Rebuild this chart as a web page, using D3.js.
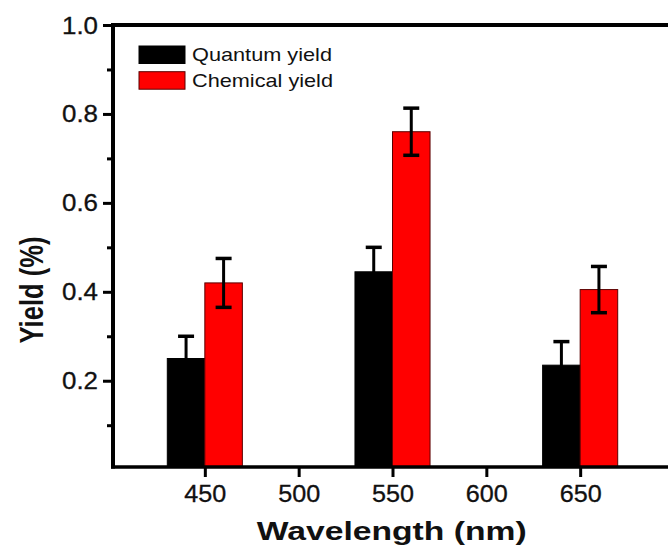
<!DOCTYPE html>
<html>
<head>
<meta charset="utf-8">
<script src="https://cdn.jsdelivr.net/npm/d3@7"></script>
<style>
  body { margin: 0; background: #fff; }
  text { font-family: Arial, "Liberation Sans", sans-serif; fill: #111; }
</style>
</head>
<body>
<div id="chart"></div>
<script>
// Yield vs wavelength - grouped bars with error bars
const wavelengths = [450, 550, 650];
const quantum_yield = [0.25, 0.445, 0.235];
const quantum_err = [0.05, 0.055, 0.053];
const chemical_yield = [0.42, 0.76, 0.405];
const chemical_err = [0.055, 0.053, 0.052];
const series_names = ["Quantum yield", "Chemical yield"];
const series_colors = ["#000000", "#ff0000"];
const x_ticks = [450, 500, 550, 600, 650];
const y_major = [0.2, 0.4, 0.6, 0.8, 1.0];
const y_minor = [0.1, 0.3, 0.5, 0.7, 0.9];

const width = 668;
const height = 554;
const axis_x = 113;
const axis_y = 467;
const bar_nm = 20;

const x_scale = d3.scaleLinear().domain([400, 700]).range([111, 674]);
const y_scale = d3.scaleLinear().domain([0.006, 1]).range([axis_y, 25]);

const svg = d3.select("#chart").append("svg")
    .attr("width", width)
    .attr("height", height);

const bars = [];
wavelengths.forEach((w, i) => {
    bars.push({ s: 0, x0: w - bar_nm, x1: w, v: quantum_yield[i], e: quantum_err[i] });
    bars.push({ s: 1, x0: w, x1: w + bar_nm, v: chemical_yield[i], e: chemical_err[i] });
});

svg.append("g").selectAll("rect")
    .data(bars)
    .join("rect")
    .attr("x", d => x_scale(d.x0))
    .attr("y", d => y_scale(d.v))
    .attr("width", d => x_scale(d.x1) - x_scale(d.x0))
    .attr("height", d => axis_y - y_scale(d.v))
    .attr("fill", d => series_colors[d.s])
    .attr("stroke", d => d.s ? "#5a0000" : "#000")
    .attr("stroke-width", 1);

// error bars
const err = svg.append("g")
    .attr("stroke", "#000")
    .attr("stroke-width", 3);

bars.forEach(d => {
    const cx = x_scale((d.x0 + d.x1) / 2);
    const top = y_scale(d.v + d.e);
    const bot = y_scale(d.v - d.e);
    err.append("line").attr("x1", cx).attr("x2", cx).attr("y1", top).attr("y2", bot);
    [top, bot].forEach(yy => {
        err.append("line")
            .attr("x1", cx - 8).attr("x2", cx + 8)
            .attr("y1", yy).attr("y2", yy)
            .attr("stroke-width", 3.5);
    });
});

// top frame line
svg.append("line")
    .attr("x1", axis_x - 2).attr("x2", width + 5)
    .attr("y1", y_scale(1)).attr("y2", y_scale(1))
    .attr("stroke", "#000")
    .attr("stroke-width", 4);

// x axis
const x_axis_g = svg.append("g")
    .attr("transform", `translate(0,${axis_y})`)
    .call(d3.axisBottom(x_scale).tickValues(x_ticks).tickSize(10).tickSizeOuter(0));
x_axis_g.select(".domain").attr("stroke-width", 3.5).attr("d", `M${axis_x - 2},0H${width + 5}`);
x_axis_g.selectAll(".tick line").attr("stroke-width", 3);
x_axis_g.selectAll(".tick text")
    .attr("y", 34.5)
    .attr("dy", 0)
    .attr("textLength", 42)
    .attr("lengthAdjust", "spacingAndGlyphs")
    .style("font-size", "23px")
    .style("font-family", "Arial, 'Liberation Sans', sans-serif")
    .style("stroke", "#111")
    .style("stroke-width", 0.3);

// y axis minor ticks
const y_minor_g = svg.append("g")
    .attr("transform", `translate(${axis_x},0)`)
    .call(d3.axisLeft(y_scale).tickValues(y_minor).tickSize(6).tickFormat(""));
y_minor_g.select(".domain").remove();
y_minor_g.selectAll(".tick line").attr("stroke-width", 3);

// y axis major
const y_axis_g = svg.append("g")
    .attr("transform", `translate(${axis_x},0)`)
    .call(d3.axisLeft(y_scale).tickValues(y_major).tickSize(10).tickSizeOuter(0).tickFormat(d3.format(".1f")));
y_axis_g.select(".domain").attr("stroke-width", 4).attr("d", `M0,${axis_y + 1.5}V${y_scale(1) - 2}`);
y_axis_g.selectAll(".tick line").attr("stroke-width", 3);
y_axis_g.selectAll(".tick text")
    .attr("x", -15)
    .attr("dy", "0.35em")
    .attr("textLength", 36)
    .attr("lengthAdjust", "spacingAndGlyphs")
    .style("font-size", "23px")
    .style("font-family", "Arial, 'Liberation Sans', sans-serif")
    .style("stroke", "#111")
    .style("stroke-width", 0.3);

// axis titles
svg.append("text")
    .attr("x", 391.7)
    .attr("y", 540)
    .attr("text-anchor", "middle")
    .attr("textLength", 270)
    .attr("lengthAdjust", "spacingAndGlyphs")
    .style("font-size", "26px")
    .style("font-weight", "bold")
    .text("Wavelength (nm)");

svg.append("text")
    .attr("transform", "translate(43,290) rotate(-90)")
    .attr("text-anchor", "middle")
    .attr("textLength", 107)
    .attr("lengthAdjust", "spacingAndGlyphs")
    .style("font-size", "33px")
    .style("font-weight", "bold")
    .text("Yield (%)");

// legend
const legend = svg.append("g").attr("transform", "translate(139,46)");
series_names.forEach((name, i) => {
    legend.append("rect")
        .attr("x", 0).attr("y", i * 25.7)
        .attr("width", 46).attr("height", 17.5)
        .attr("fill", series_colors[i])
        .attr("stroke", i ? "#5a0000" : "#000")
        .attr("stroke-width", 1);
    legend.append("text")
        .attr("x", 53).attr("y", i * 25.7 + 15.2)
        .attr("textLength", i ? 141 : 140)
        .attr("lengthAdjust", "spacingAndGlyphs")
        .style("font-size", "19px")
        .text(name);
});
</script>
</body>
</html>
